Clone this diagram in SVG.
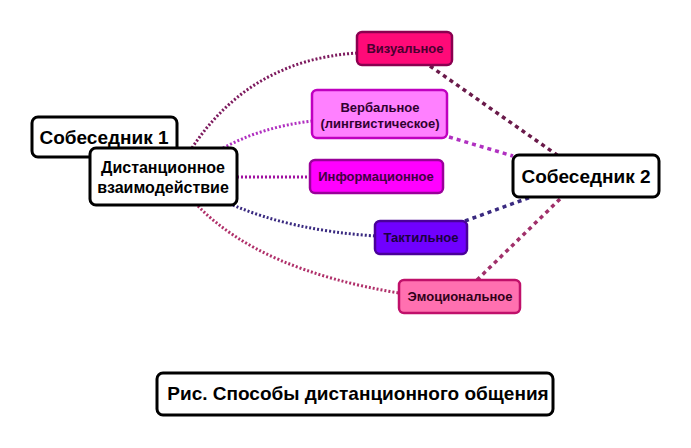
<svg xmlns="http://www.w3.org/2000/svg" width="691" height="448" viewBox="0 0 691 448">
<style>
.lb{fill:#fff;stroke:#000;stroke-width:3}
.t{font-family:"Liberation Sans",Arial,sans-serif;font-weight:bold;text-anchor:middle}
.big{font-size:19px;fill:#000}
.mid{font-size:16px;fill:#000}
.sm{font-size:13px}
.l{fill:none;stroke-width:3;stroke-dasharray:2 2}
.r{fill:none;stroke-width:3.5;stroke-dasharray:4 4}
.c{stroke-width:2.5}
</style>
<rect width="691" height="448" fill="#fff"/>
<g id="connectors">
<path class="l" d="M192,148 Q250,60 357,53" stroke="#7d1a5e"/>
<path class="l" d="M223,148 Q262,127 312,121" stroke="#b030c0"/>
<path class="l" d="M237,177 L310,177" stroke="#a010a0"/>
<path class="l" d="M233,205 Q290,230 375,236" stroke="#3a2a80"/>
<path class="l" d="M198,206 Q260,270 399,293" stroke="#b0306a"/>
<path class="r" d="M430,66 L557,155" stroke="#6a1a4a"/>
<path class="r" d="M449,137 L513,156" stroke="#b030c0"/>
<path class="r" d="M465,221 L531,197" stroke="#3a2a80"/>
<path class="r" d="M477,280 L562,197" stroke="#a0306a"/>
</g>
<g id="sobesednik1">
<rect class="lb" x="32" y="117" width="145" height="40" rx="6"/>
<text class="t big" x="104" y="144">Собеседник 1</text>
</g>
<g id="distant">
<rect class="lb" x="90" y="148" width="147" height="57" rx="6"/>
<text class="t mid" x="163" y="173">Дистанционное</text>
<text class="t mid" x="163" y="193">взаимодействие</text>
</g>
<g id="vizualnoe">
<rect class="c" x="357" y="32" width="95" height="33" rx="5" fill="#ff0a78" stroke="#8a0050"/>
<text class="t sm" x="405" y="53" fill="#4a0030">Визуальное</text>
</g>
<g id="verbalnoe">
<rect class="c" x="312" y="90" width="135" height="48" rx="5" fill="#ff80ff" stroke="#c000c0"/>
<text class="t sm" x="380" y="112" fill="#300030">Вербальное</text>
<text class="t sm" x="380" y="128" fill="#300030">(лингвистическое)</text>
</g>
<g id="informacionnoe">
<rect class="c" x="310" y="160" width="133" height="33" rx="5" fill="#ff00ff" stroke="#9a009a"/>
<text class="t sm" x="376" y="181" fill="#400040">Информационное</text>
</g>
<g id="taktilnoe">
<rect class="c" x="375" y="221" width="92" height="33" rx="5" fill="#7000ff" stroke="#4a0099"/>
<text class="t sm" x="421" y="242" fill="#1a0040">Тактильное</text>
</g>
<g id="emocionalnoe">
<rect class="c" x="399" y="280" width="121" height="33" rx="5" fill="#ff70b0" stroke="#c0106a"/>
<text class="t sm" x="460" y="301" fill="#300018">Эмоциональное</text>
</g>
<g id="sobesednik2">
<rect class="lb" x="513" y="155" width="146" height="42" rx="6"/>
<text class="t big" x="586" y="183">Собеседник 2</text>
</g>
<g id="caption">
<rect class="lb" x="157" y="373" width="396" height="42" rx="6"/>
<text class="t big" x="358" y="400">Рис. Способы дистанционного общения</text>
</g>
</svg>
